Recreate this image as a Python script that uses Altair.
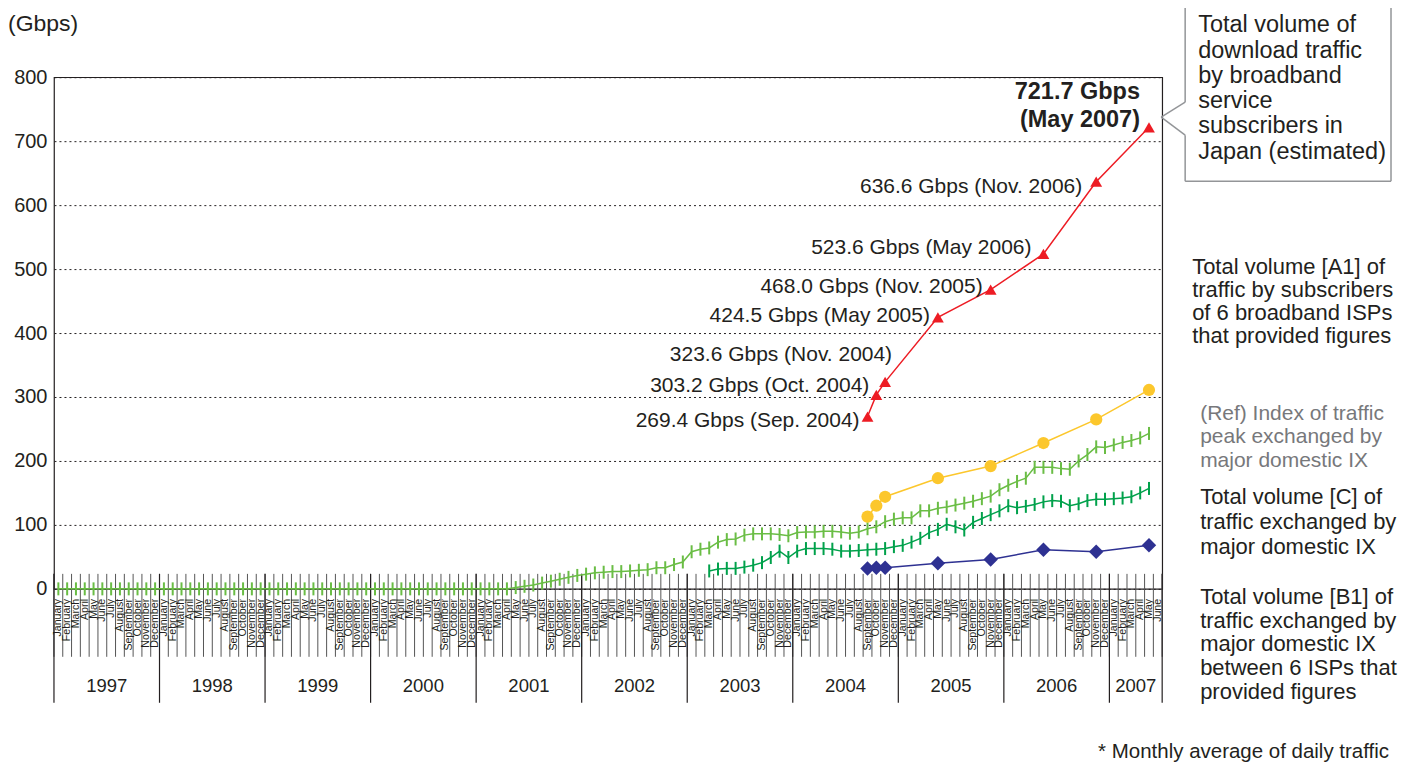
import altair as alt
import pandas as pd

FONT = "Liberation Sans"
TEXT = "#231f20"

# ---------------- data ----------------
MONTH_NAMES = ["January", "February", "March", "April", "May", "June", "July",
               "August", "September", "October", "November", "December"]
YEARS = [1997, 1998, 1999, 2000, 2001, 2002, 2003, 2004, 2005, 2006, 2007]
LAST_MONTH = "2007-06"

# (Ref) Index of traffic peak exchanged by major domestic IX (monthly, from 1997-01)
index_start = "1997-01"
index_values = [
    0, 0, 0, 0, 0, 0, 0, 0, 0, 0, 0, 0,
    0, 0, 0, 0, 0, 0, 0, 0, 0, 0, 0, 0,
    0, 0, 0, 0, 0, 0, 0, 0, 0, 0, 0, 0,
    0, 0, 0, 0, 0, 0, 0, 0, 0, 0, 0, 0,
    0, 0, 0, 0, 2, 4, 6, 9, 12, 15, 18, 21,
    23, 25, 26, 27, 27, 28, 29, 30, 33, 33, 38, 42,
    58, 62, 64, 73, 77, 78, 84, 86, 86, 86, 85, 83,
    88, 89, 89, 90, 90, 89, 87, 89, 94, 97, 105, 109,
    111, 111, 122, 122, 126, 128, 131, 134, 137, 141, 145, 155,
    162, 168, 173, 190, 190, 190, 188, 187, 200, 210, 222, 221,
    225, 229, 232, 236, 243,
]

# Total volume [C] of traffic exchanged by major domestic IX (monthly, from 2003-03)
c_start = "2003-03"
c_values = [
    28, 31, 32, 32, 34, 37, 41, 49, 59, 49,
    59, 63, 63, 63, 62, 59, 59, 60, 61, 62, 63, 66,
    68, 73, 79, 88, 93, 101, 97, 92, 104, 110, 116, 122,
    130, 127, 129, 132, 136, 138, 137, 130, 133, 138, 140, 140,
    141, 142, 144, 150, 157,
]

survey_months = ["2004-09", "2004-10", "2004-11", "2005-05", "2005-11",
                 "2006-05", "2006-11", "2007-05"]
a1_values = [113, 130, 144, 173, 192, 228, 265, 311]
b1_values = [32, 33, 33, 40, 46, 61, 58, 68]
total_values = [269.4, 303.2, 323.6, 424.5, 468.0, 523.6, 636.6, 721.7]
total_labels = ["269.4 Gbps (Sep. 2004)", "303.2 Gbps (Oct. 2004)",
                "323.6 Gbps (Nov. 2004)", "424.5 Gbps (May 2005)",
                "468.0 Gbps (Nov. 2005)", "523.6 Gbps (May 2006)",
                "636.6 Gbps (Nov. 2006)", "721.7 Gbps\n(May 2007)"]
y_ticks = [0, 100, 200, 300, 400, 500, 600, 700, 800]


def month_index(ym):
    y, m = ym.split("-")
    return (int(y) - YEARS[0]) * 12 + int(m) - 1


N_MONTHS = month_index(LAST_MONTH) + 1

index_df = pd.DataFrame({"pos": [month_index(index_start) + i + 0.5 for i in range(len(index_values))],
                         "value": index_values})
c_df = pd.DataFrame({"pos": [month_index(c_start) + i + 0.5 for i in range(len(c_values))],
                     "value": c_values})
survey_pos = [month_index(m) + 0.5 for m in survey_months]
a1_df = pd.DataFrame({"pos": survey_pos, "value": a1_values})
b1_df = pd.DataFrame({"pos": survey_pos, "value": b1_values})
tot_df = pd.DataFrame({"pos": survey_pos, "value": total_values, "label": total_labels})

month_lab_df = pd.DataFrame({"pos": [i + 0.5 for i in range(N_MONTHS)],
                             "name": [MONTH_NAMES[i % 12] for i in range(N_MONTHS)]})
month_edge_df = pd.DataFrame({"pos": list(range(N_MONTHS + 1))})
year_edges = [min(i * 12, N_MONTHS) for i in range(len(YEARS))] + [N_MONTHS]
year_edge_df = pd.DataFrame({"pos": year_edges})
year_lab_df = pd.DataFrame({"pos": [(year_edges[i] + year_edges[i + 1]) / 2 for i in range(len(YEARS))],
                            "year": [str(y) for y in YEARS]})
one = pd.DataFrame({"a": [0]})

# ---------------- layout ----------------
W, H = 1109, 512
PAD = {"left": 46, "top": 69, "right": 236, "bottom": 176}

xs = alt.Scale(domain=[0, N_MONTHS], nice=False, zero=False)
X = alt.X("pos:Q", scale=xs, axis=None)
Y = alt.Y("value:Q", scale=alt.Scale(domain=[0, 800], nice=False),
          axis=alt.Axis(values=y_ticks, grid=True, gridDash=[2, 3], gridColor=TEXT,
                        gridOpacity=1, gridWidth=1, domain=False, ticks=False,
                        labelFontSize=20, labelFont=FONT, labelColor=TEXT,
                        labelPadding=7, title=None))

TICK = "M0,-1L0,1"

layers = []

# month / year frame under the plot
layers.append(alt.Chart(month_edge_df).mark_rule(color="#555555", strokeWidth=1).encode(
    x=X, y=alt.value(497), y2=alt.value(580)))
layers.append(alt.Chart(year_edge_df).mark_rule(color=TEXT, strokeWidth=1.2).encode(
    x=X, y=alt.value(497), y2=alt.value(626)))
layers.append(alt.Chart(month_lab_df).mark_text(
    angle=270, align="right", baseline="middle", fontSize=10.6, font=FONT, color=TEXT).encode(
    x=X, y=alt.value(522), text="name:N"))
layers.append(alt.Chart(year_lab_df).mark_text(
    align="center", baseline="middle", fontSize=18.5, font=FONT, color=TEXT).encode(
    x=X, y=alt.value(609), text="year:N"))


def series(df, color, shape, size, filled, sw_line=1.5, sw_pt=1):
    line = alt.Chart(df).mark_line(color=color, strokeWidth=sw_line).encode(x=X, y=Y)
    pts = alt.Chart(df).mark_point(shape=shape, size=size, filled=filled, color=color,
                                   strokeWidth=sw_pt, opacity=1).encode(x=X, y=Y)
    return [line, pts]


layers += series(index_df, "#6abd45", TICK, 169, False, 1.5, 2)
layers += series(c_df, "#00a14b", TICK, 169, False, 1.5, 2)
layers += series(b1_df, "#2e3192", "diamond", 210, True)
layers += series(a1_df, "#fcc72c", "circle", 150, True)
layers += series(tot_df, "#ed1c24", "triangle-up", 140, True)

# labels of the estimated total
label_offsets = [(-8, 4), (-7, -9), (7, -27), (-8, -1), (-8, -3), (-12, -6), (-14, 5), (-9, -35)]
for i, (dx, dy) in enumerate(label_offsets):
    last = i == len(label_offsets) - 1
    layers.append(alt.Chart(tot_df.iloc[[i]]).mark_text(
        align="right", baseline="middle", dx=dx, dy=dy, font=FONT, color=TEXT,
        fontSize=23.5 if last else 21, fontWeight="bold" if last else "normal",
        lineBreak="\n", lineHeight=28).encode(x=X, y=Y, text="label:N"))


def note(text, x, y, size=22, color=TEXT, align="left", lh=23):
    return alt.Chart(one).mark_text(
        text=text, align=align, baseline="middle", fontSize=size, font=FONT,
        color=color, lineBreak="\n", lineHeight=lh).encode(x=alt.value(x), y=alt.value(y))


layers.append(note("(Gbps)", -46, -53, size=23))
layers.append(note("Total volume of\ndownload traffic\nby broadband\nservice\nsubscribers in\nJapan (estimated)",
                   1145, -52, size=23.5, lh=25.3))
layers.append(note("Total volume [A1] of\ntraffic by subscribers\nof 6 broadband ISPs\nthat provided figures",
                   1139, 190))
layers.append(note("(Ref) Index of traffic\npeak exchanged by\nmajor domestic IX",
                   1147, 337, size=21, color="#77787b", lh=23.5))
layers.append(note("Total volume [C] of\ntraffic exchanged by\nmajor domestic IX",
                   1147, 420, lh=25))
layers.append(note("Total volume [B1] of\ntraffic exchanged by\nmajor domestic IX\nbetween 6 ISPs that\nprovided figures",
                   1147, 520, lh=23.7))
layers.append(note("* Monthly average of daily traffic", 1336, 675, size=20.5, align="right"))

# callout frame
BOX = "#939598"
segments = [((1132, -72), (1338, -72)), ((1338, -72), (1338, 104)), ((1132, 104), (1338, 104)),
            ((1132, -72), (1132, 25)), ((1132, 58), (1132, 104)),
            ((1132, 25), (1108, 40)), ((1108, 40), (1132, 58))]
for (x1, y1), (x2, y2) in segments:
    layers.append(alt.Chart(one).mark_rule(color=BOX, strokeWidth=1.5).encode(
        x=alt.value(x1), y=alt.value(y1), x2=alt.value(x2), y2=alt.value(y2)))

chart = alt.layer(*layers).properties(
    width=W, height=H, padding=PAD,
    autosize=alt.AutoSizeParams(type="none"),
    background="white",
).configure_view(stroke=TEXT, strokeWidth=1.2)

chart.save("out.html", embed_options={"renderer": "svg", "actions": False})
